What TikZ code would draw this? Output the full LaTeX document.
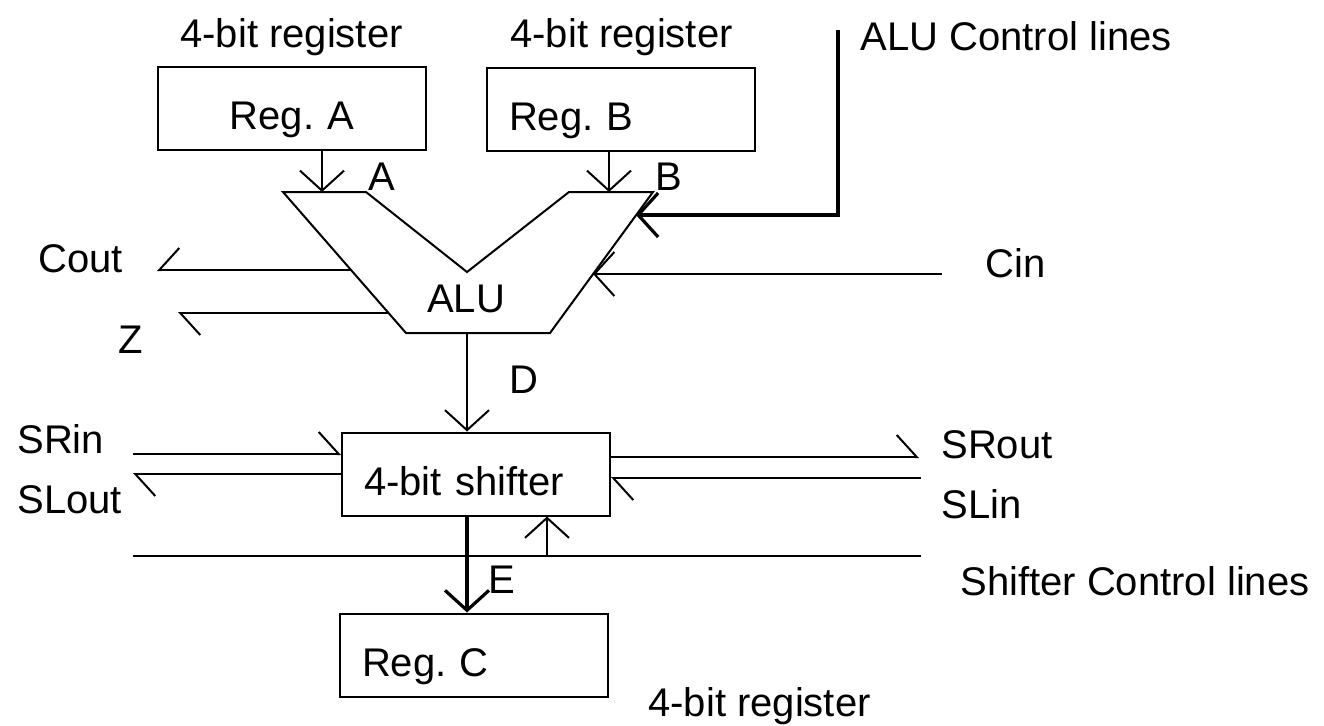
\documentclass[tikz,border=0pt]{standalone}
\usepackage{fontspec}
\setmainfont{Liberation Sans}
\usetikzlibrary{arrows.meta}
\frenchspacing

\begin{document}
\begin{tikzpicture}[
    x=0.5pt,y=-0.5pt,
    font=\fontsize{20}{24}\selectfont,
    >={Straight Barb[length=10pt,width=22pt]},
    reg/.style={draw,line width=1pt,minimum width=134pt,minimum height=41.5pt,
      text width=112pt,inner xsep=11pt,inner ysep=0pt,align=left,
      text height=25pt,text depth=4pt},
    lbl/.style={anchor=base west,inner sep=0pt},
    bus/.style={line width=1pt},
    sig/.style={bus,->},
    half/.style={bus,-{Straight Barb[left,length=10pt,width=22pt]}},
    halfsw/.style={bus,-{Straight Barb[right,length=10pt,width=22pt]}}
  ]
  \useasboundingbox (0,0) rectangle (1324,725);

  % registers and shifter
  \node[reg,align=center] (regA) at (292,108.5) {Reg. A};
  \node[reg] (regB) at (621,109.5) {Reg. B};
  \node[reg] (shifter) at (476,474) {4-bit shifter};
  \node[reg] (regC) at (474,655) {Reg. C};

  % ALU outline
  \draw[bus,line join=miter] (283,192) -- (366,192) -- (467,272) -- (569,192)
    -- (653,192) -- (550,333) -- (406,333) -- cycle;
  \node (alu) at (466,299) {ALU};

  \coordinate (atip) at (322,192);
  \coordinate (btip) at (609,192);
  \coordinate (ctrltop) at (838,30);
  \coordinate (ctrltip) at (636,215);
  \coordinate (cinend) at (942,274);
  \coordinate (cintip) at (593,274);
  \coordinate (coutsrc) at (351,270);
  \coordinate (coutend) at (157,270);
  \coordinate (zsrc) at (388,313);
  \coordinate (zend) at (178,313);
  \coordinate (dsrc) at (467,333);
  \coordinate (srinend) at (133,454);
  \coordinate (sloutend) at (133,474);
  \coordinate (sroutend) at (919,457);
  \coordinate (slinend) at (921,478);
  \coordinate (shl) at (133,556);
  \coordinate (shr) at (921,556);
  \coordinate (shup) at (547,556);

  % ALU connections
  \draw[sig] (regA.south -| atip) -- (atip);
  \draw[sig] (regB.south -| btip) -- (btip);
  \draw[sig,line width=1.6pt] (ctrltop) |- (ctrltip);
  \draw[sig] (cinend) -- (cintip);
  \draw[halfsw] (coutsrc) -- (coutend);
  \draw[half] (zsrc) -- (zend);
  \draw[sig] (dsrc) -- (dsrc |- shifter.north);

  % shifter connections
  \draw[half] (srinend) -- (srinend -| shifter.west);
  \draw[half] (shifter.west |- sloutend) -- (sloutend);
  \draw[half] (shifter.east |- sroutend) -- (sroutend);
  \draw[half] (slinend) -- (slinend -| shifter.east);
  \draw[bus] (shl) -- (shr);
  \draw[sig] (shup) -- (shup |- shifter.south);
  \draw[sig,line width=1.6pt] (dsrc |- shifter.south) -- (dsrc |- regC.north);

  % labels
  \node[lbl] (topA) at (180,47) {4-bit register};
  \node[lbl] (topB) at (510,47) {4-bit register};
  \node[lbl] (ctrllbl) at (860,50) {ALU Control lines};
  \node[lbl] (lblA) at (368,190) {A};
  \node[lbl] (lblB) at (655,190) {B};
  \node[lbl] (coutlbl) at (38,272) {Cout};
  \node[lbl] (zlbl) at (118,353) {Z};
  \node[lbl] (cinlbl) at (985,277) {Cin};
  \node[lbl] (dlbl) at (509,393) {D};
  \node[lbl] (srinlbl) at (17,453) {SRin};
  \node[lbl] (sloutlbl) at (17,513) {SLout};
  \node[lbl] (sroutlbl) at (941,458) {SRout};
  \node[lbl] (slinlbl) at (941,518) {SLin};
  \node[lbl] (shctrllbl) at (960,595) {Shifter Control lines};
  \node[lbl] (elbl) at (488,593) {E};
  \node[lbl] (botC) at (648,716) {4-bit register};
\end{tikzpicture}
\end{document}
